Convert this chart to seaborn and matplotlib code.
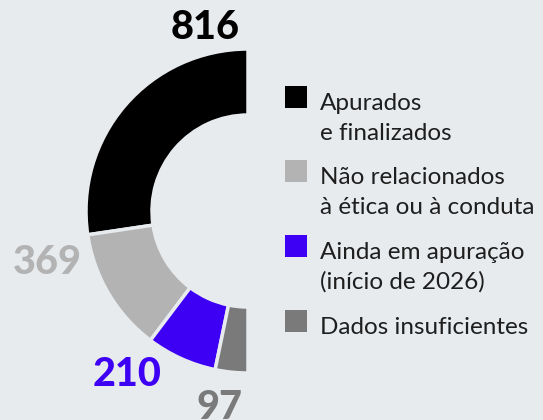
import matplotlib.pyplot as plt
import seaborn as sns
from matplotlib.patches import Rectangle

# Data
categories = ['Apurados\ne finalizados', 'Não relacionados\nà ética ou à conduta',
              'Ainda em apuração\n(início de 2026)', 'Dados insuficientes']
values = [816, 369, 210, 97]
colors = ['#000000', '#b3b3b3', '#3d00f5', '#7a7a7a']
bg = '#e8ebee'

sns.set_theme(style='white')
plt.rcParams['font.family'] = ['Lato', 'DejaVu Sans']

fig = plt.figure(figsize=(5.43, 4.2), dpi=100, facecolor=bg)
ax = fig.add_axes([0, 0, 1, 1])
ax.set_facecolor(bg)

# half donut: the data fill the left half, an invisible wedge fills the right
total = sum(values)
wedges, _ = ax.pie(values + [total], colors=colors + ['none'], startangle=90,
                   counterclock=True, center=(248, 209), radius=162,
                   wedgeprops=dict(width=66, edgecolor=bg, linewidth=2.5))
wedges[-1].set_edgecolor('none')

ax.set_xlim(0, 543)
ax.set_ylim(0, 420)
ax.set_aspect('equal')
ax.axis('off')

# value labels
label_pos = [(240, 381, 'right'), (82, 146, 'right'), (162, 34, 'right'), (243, 1, 'right')]
for v, c, (x, y, ha) in zip(values, colors, label_pos):
    ax.text(x, y, str(v), color=c, fontsize=28.5, fontweight='black', ha=ha, va='baseline')

# legend
sq_tops = [86, 160, 235, 310]
for cat, c, top in zip(categories, colors, sq_tops):
    ax.add_patch(Rectangle((285, 420 - top - 22), 22, 22, color=c, lw=0))
    lines = cat.split('\n')
    for i, line in enumerate(lines):
        ax.text(320, 420 - top - 24 - i * 30, line, color='#1e1e1e', fontsize=17.5,
                fontweight='normal', ha='left', va='baseline')

fig.savefig('out.png', dpi=100, facecolor=bg)
